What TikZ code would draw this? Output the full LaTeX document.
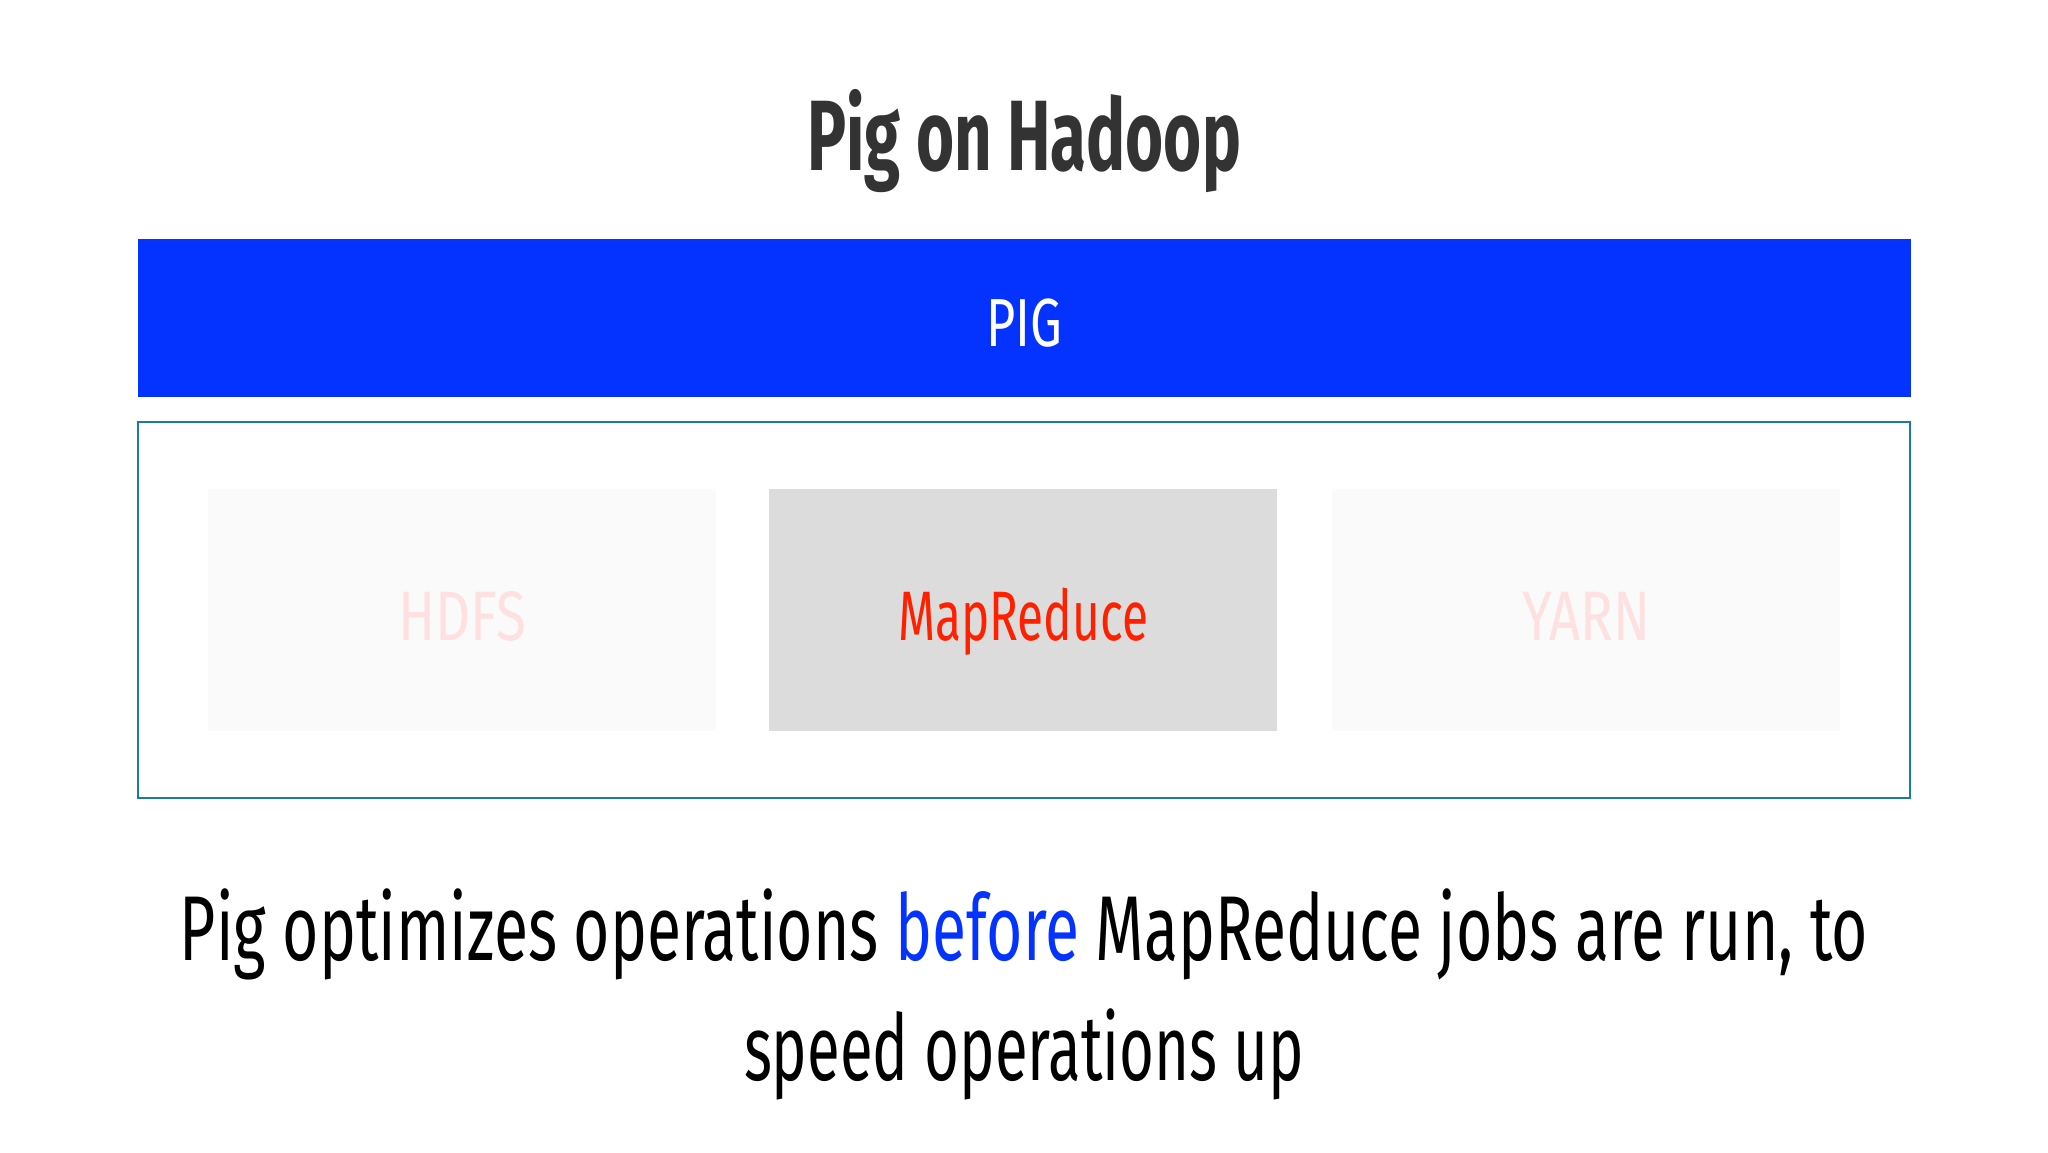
\documentclass[tikz,border=0pt]{standalone}
\usepackage{fontspec}
\setmainfont{Fira Sans}
\usepackage{graphicx}
\usepackage{tikz}
\usetikzlibrary{positioning}
\definecolor{pigblue}{RGB}{4,51,255}
\definecolor{framecol}{RGB}{26,127,143}
\definecolor{mrgray}{RGB}{220,220,220}
\definecolor{fadebox}{RGB}{250,250,250}
\definecolor{fadetext}{RGB}{255,224,224}
\definecolor{mrred}{RGB}{255,32,0}
\definecolor{titlecol}{RGB}{51,51,51}

\begin{document}
\begin{tikzpicture}[x=0.5pt,y=-0.5pt]
\tikzstyle{layer}=[inner sep=0pt,outer sep=0pt]%
\tikzstyle{part}=[layer,minimum width=254pt,minimum height=121pt]%
\tikzstyle{label}=[inner sep=0pt,anchor=base]%
  \useasboundingbox (0,0) rectangle (2048,1152);
  \fill[white] (0,0) rectangle (2048,1152);

  \node (title) at (1024,170) [label,text=titlecol]
    {\resizebox{217pt}{\height}{\fontsize{50}{60}\selectfont\bfseries Pig on Hadoop}};

  \node (pig) at (1024,318) [layer,fill=pigblue,minimum width=886.5pt,minimum height=79pt] {};
  \node (pigtxt) at (1024,346) [label,text=white]
    {\resizebox{38pt}{\height}{\fontsize{34}{40}\selectfont PIG}};

  \node (core) at (1024,610) [layer,draw=framecol,line width=1.3pt,minimum width=886pt,minimum height=188pt] {};

  \node (hdfs) at (462,610) [part,fill=fadebox] {};
  \node (mapred) at (1023,610) [part,fill=mrgray] {};
  \node (yarn) at (1586,610) [part,fill=fadebox] {};
  \node (hdfstxt) at (462,640) [label,text=fadetext]
    {\resizebox{64pt}{\height}{\fontsize{35}{42}\selectfont HDFS}};
  \node (mrtxt) at (1023,640) [label,text=mrred]
    {\resizebox{125pt}{\height}{\fontsize{35}{42}\selectfont MapReduce}};
  \node (yarntxt) at (1586,640) [label,text=fadetext]
    {\resizebox{64pt}{\height}{\fontsize{35}{42}\selectfont YARN}};

  \node (line1) at (1024,960) [label,text=black]
    {\resizebox{844pt}{\height}{\fontsize{46}{55}\selectfont Pig optimizes operations \textcolor{pigblue}{before} MapReduce jobs are run, to}};
  \node (line2) at (1024,1080) [label,text=black]
    {\resizebox{280pt}{\height}{\fontsize{46}{55}\selectfont speed operations up}};

\end{tikzpicture}
\end{document}
